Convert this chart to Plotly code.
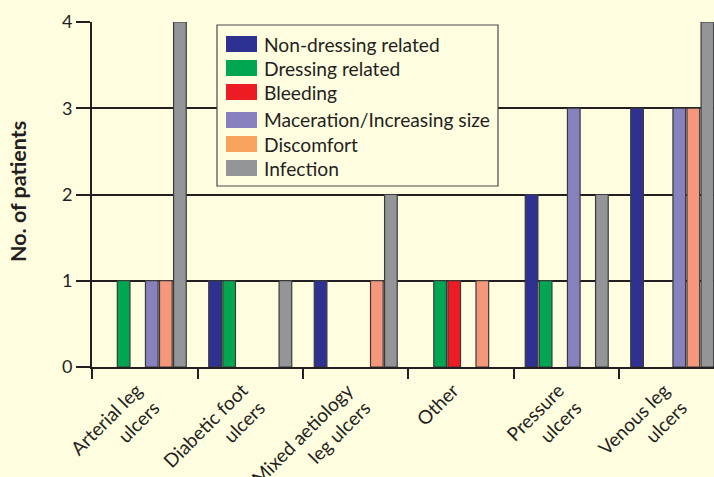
import plotly.graph_objects as go

categories = ["Arterial leg<br>ulcers", "Diabetic foot<br>ulcers", "Mixed aetiology<br>leg ulcers",
              "Other", "Pressure<br>ulcers", "Venous leg<br>ulcers"]
series_names = ["Non-dressing related", "Dressing related", "Bleeding",
                "Maceration/Increasing size", "Discomfort", "Infection"]
non_dressing = [0, 1, 1, 0, 2, 3]
dressing = [1, 1, 0, 1, 1, 0]
bleeding = [0, 0, 0, 1, 0, 0]
maceration = [1, 0, 0, 0, 3, 3]
discomfort = [1, 0, 1, 1, 0, 3]
infection = [4, 1, 2, 0, 2, 4]
series_values = [non_dressing, dressing, bleeding, maceration, discomfort, infection]
bar_colors = ["#2e3192", "#00a651", "#ed1c24", "#8781bd", "#f4977a", "#939598"]
legend_colors = ["#2e3192", "#00a651", "#ed1c24", "#8781bd", "#f7a35e", "#939598"]

BG = "#fffde0"
INK = "#231f20"
FONT = "Lato, 'Open Sans', sans-serif"

W, H = 714, 477
L, R, T, B = 92, 0, 22, 110
pw, ph = W - L - R, H - T - B


def px2x(px):
    return (px - L) / pw


def py2y(py):
    return (H - B - py) / ph


fig = go.Figure()
for name, vals, col in zip(series_names, series_values, bar_colors):
    fig.add_trace(go.Bar(
        x=categories, y=[v if v else None for v in vals], name=name,
        marker=dict(color=col, line=dict(color="#3a3a3a", width=1.2)),
        showlegend=False,
    ))

shapes = []
annotations = []
# manual legend box
shapes.append(dict(type="rect", xref="paper", yref="paper",
                   x0=px2x(217), x1=px2x(498), y0=py2y(186), y1=py2y(25),
                   fillcolor=BG, line=dict(color="#4a4a4a", width=1.2), layer="above"))
row_y = [44, 68, 92, 120, 144, 168]
for name, col, yy in zip(series_names, legend_colors, row_y):
    shapes.append(dict(type="rect", xref="paper", yref="paper",
                       x0=px2x(226), x1=px2x(257), y0=py2y(yy + 8), y1=py2y(yy - 8),
                       fillcolor=col, line=dict(width=0), layer="above"))
    annotations.append(dict(xref="paper", yref="paper", x=px2x(262), y=py2y(yy),
                            xanchor="left", yanchor="middle", text=name, showarrow=False,
                            font=dict(family=FONT, size=19.2, color=INK)))

annotations.append(dict(xref="paper", yref="paper", x=px2x(18), y=py2y(192),
                        xanchor="center", yanchor="middle", text="<b>No. of patients</b>",
                        textangle=-90, showarrow=False,
                        font=dict(family=FONT, size=21.5, color=INK)))

fig.update_layout(
    width=W, height=H,
    margin=dict(l=L, r=R, t=T, b=B),
    paper_bgcolor=BG, plot_bgcolor=BG,
    barmode="group", bargap=0.2, bargroupgap=0.1,
    font=dict(family=FONT, size=18, color=INK),
    shapes=shapes, annotations=annotations,
    showlegend=False,
)
fig.update_xaxes(
    range=[-0.5, 5.396], showgrid=False, showline=True, linecolor=INK, linewidth=2,
    ticks="outside", tickson="boundaries", ticklen=10, tickwidth=2, tickcolor=INK,
    tickangle=-45, tickfont=dict(family=FONT, size=19, color=INK), automargin=False,
    ticklabelshift=-8, ticklabelstandoff=3,
)
fig.update_yaxes(
    range=[0, 4], dtick=1, showgrid=True, gridcolor=INK, gridwidth=2,
    showline=True, linecolor=INK, linewidth=2, zeroline=False,
    ticks="outside", ticklen=14, tickwidth=2, tickcolor=INK,
    tickfont=dict(family=FONT, size=18, color=INK), automargin=False,
)

fig.write_html("out.html", config={"displayModeBar": False},
               post_script="document.body.style.margin='0';document.body.style.background='%s';" % BG)
